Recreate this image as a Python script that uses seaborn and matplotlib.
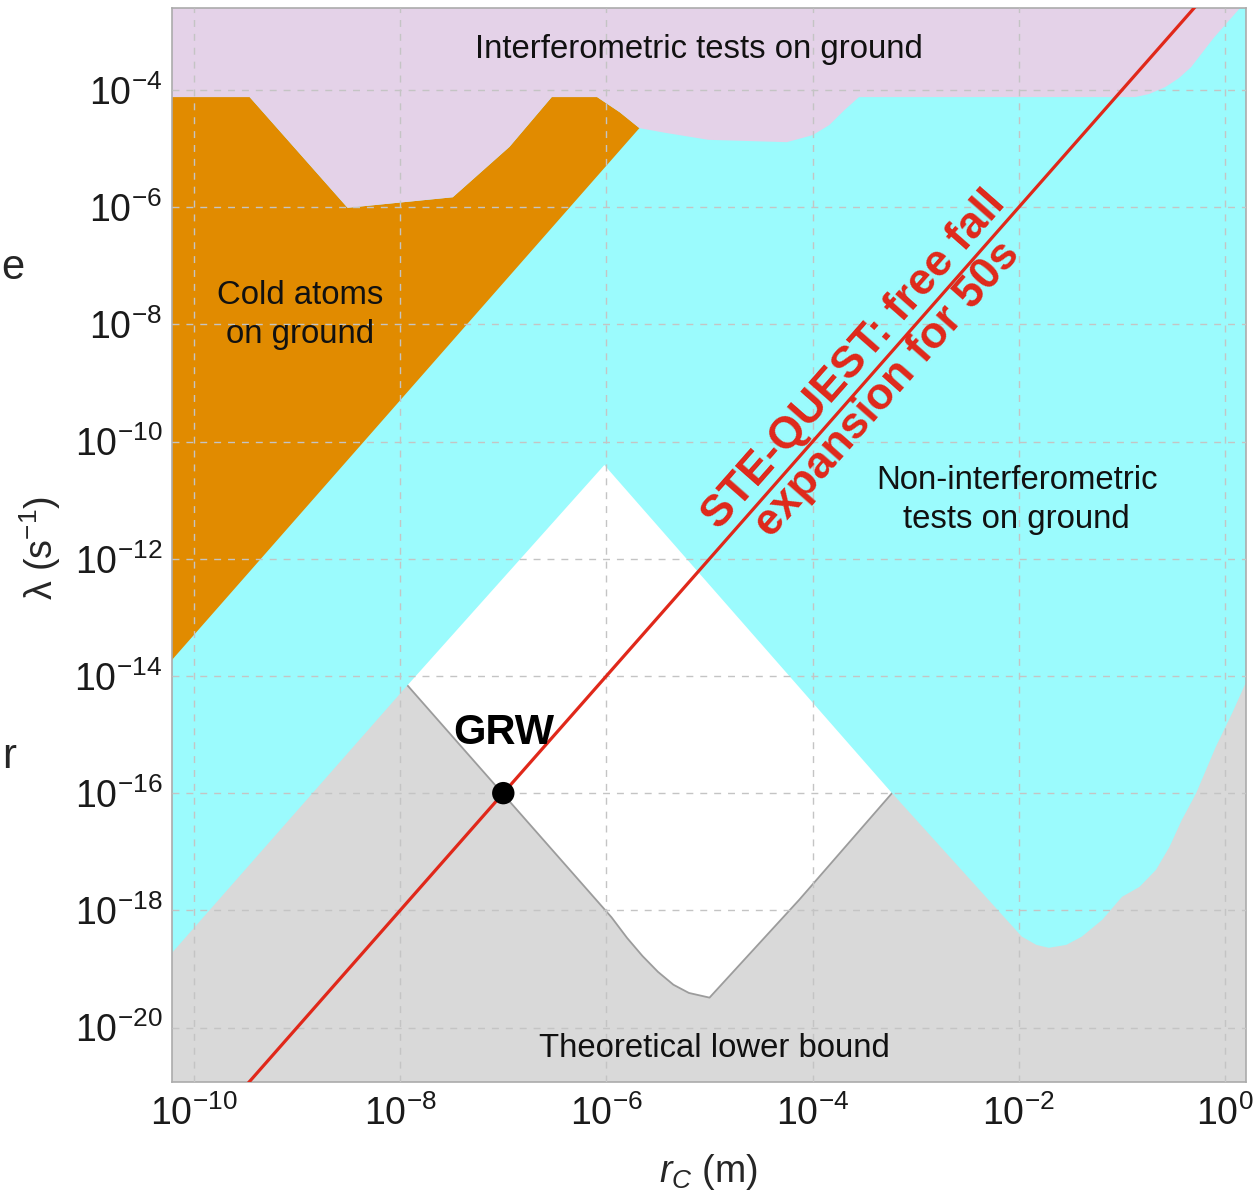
import numpy as np
import matplotlib
matplotlib.use("Agg")
import matplotlib.pyplot as plt
import seaborn as sns

# ---- data (log10 exponents) ----
# lower edge of the interferometric exclusion region (purple)
interf_rc = [-10.3, -9.46, -8.51, -7.49, -6.94, -6.53, -6.09, -5.87, -5.68, -5.43, -5.01,
             -4.25, -4.00, -3.84, -3.69, -3.55, -0.87, -0.74, -0.58, -0.45, -0.33, -0.11, 0.13, 0.3]
interf_lam = [-4.12, -4.12, -6.01, -5.83, -4.97, -4.12, -4.12, -4.38, -4.65, -4.73, -4.85,
              -4.89, -4.77, -4.60, -4.34, -4.12, -4.12, -4.07, -3.95, -3.80, -3.61, -3.11, -2.63, -2.4]

# cold atoms region (orange): top edge then the lower diagonal
cold_rc = [-10.3, -9.46, -8.51, -7.49, -6.94, -6.53, -6.09, -5.87, -5.68, -10.3]
cold_lam = [-4.12, -4.12, -6.01, -5.83, -4.97, -4.12, -4.12, -4.38, -4.65, -13.9]

# lower edge of the non-interferometric exclusion region (cyan)
nonint_rc = [-10.3, -7.93, -6.02, -3.23, -2.12, -1.97, -1.83, -1.71, -1.54, -1.39, -1.19,
             -1.00, -0.83, -0.67, -0.54, -0.42, -0.28, -0.09, 0.07, 0.20, 0.3]
nonint_lam = [-18.9, -14.16, -10.40, -16.00, -18.16, -18.45, -18.59, -18.64, -18.59, -18.45, -18.16,
              -17.77, -17.60, -17.31, -16.92, -16.46, -16.00, -15.21, -14.63, -14.12, -13.9]

# theoretical lower bound (grey)
theory_rc = [-10.3, -7.93, -5.95, -5.80, -5.65, -5.50, -5.35, -5.20, -5.00, -4.13, -3.23, 0.3]
theory_lam = [-9.4, -14.16, -18.12, -18.47, -18.78, -19.05, -19.27, -19.41, -19.49, -17.82, -16.00, -8.94]

# STE-QUEST projected bound and GRW point
ste_rc = [1e-10, 1e0]
ste_lam = [1e-22, 1e-2]
grw_rc = [1e-7]
grw_lam = [1e-16]

x_tick_exp = [-10, -8, -6, -4, -2, 0]
y_tick_exp = [-20, -18, -16, -14, -12, -10, -8, -6, -4]

# ---- style ----
sns.set_theme(style="white")
plt.rcParams["font.family"] = ["Liberation Sans", "DejaVu Sans"]
plt.rcParams["mathtext.fontset"] = "custom"
plt.rcParams["mathtext.rm"] = "Liberation Sans"
plt.rcParams["mathtext.it"] = "Liberation Sans:italic"
plt.rcParams["mathtext.bf"] = "Liberation Sans:bold"

purple = "#E4D2E8"
orange = "#E18B00"
cyan = "#9BFBFD"
grey = "#D9D9D9"
red = "#E0281A"

fig = plt.figure(figsize=(12.56, 11.95), dpi=100)
ax = fig.add_axes([172 / 1256, 1 - 1082 / 1195, (1246 - 172) / 1256, (1082 - 8) / 1195])
ax.set_xscale("log")
ax.set_yscale("log")
ax.set_xlim(10 ** -10.213, 10 ** 0.203)
ax.set_ylim(10 ** -20.93, 10 ** -2.60)

p = lambda a: 10.0 ** np.asarray(a, dtype=float)
top = -1.5
bottom = -22.0

# grey theoretical bound
ax.fill(p(theory_rc + [theory_rc[-1], theory_rc[0]]),
        p(theory_lam + [bottom, bottom]), color=grey, lw=0, zorder=1)
ax.plot(p(theory_rc), p(theory_lam), color="#9C9C9C", lw=1.3, zorder=1.2)

# cyan non-interferometric
ax.fill(p(nonint_rc + [nonint_rc[-1], nonint_rc[0]]),
        p(nonint_lam + [top, top]), color=cyan, lw=0, zorder=1.4)

# orange cold atoms
ax.fill(p(cold_rc), p(cold_lam), color=orange, lw=0, zorder=1.6)

# purple interferometric
ax.fill(p(interf_rc + [interf_rc[-1], interf_rc[0]]),
        p(interf_lam + [top, top]), color=purple, lw=0, zorder=1.8)

# grid above fills
ax.set_axisbelow(False)
ax.set_xticks(p(x_tick_exp))
ax.set_yticks(p(y_tick_exp))
ax.minorticks_off()
ax.grid(True, which="major", color="#C4C4C4", linestyle=(0, (5, 5)), linewidth=1.0)

# STE-QUEST line and GRW point
sns.lineplot(x=ste_rc, y=ste_lam, ax=ax, color=red, linewidth=2.3, zorder=4)
sns.scatterplot(x=grw_rc, y=grw_lam, ax=ax, color="black", s=260, edgecolor="none", zorder=5)

# text labels
txt = dict(fontsize=23.7, color="#111111", ha="center", va="center", zorder=6)
ax.text(10 ** -5.10, 10 ** -3.30, "Interferometric tests on ground", **txt)
ax.text(10 ** -8.97, 10 ** -7.84, "Cold atoms\non ground", linespacing=1.35, **txt)
ax.text(10 ** -2.02, 10 ** -11.0, "Non-interferometric\ntests on ground", linespacing=1.35, **txt)
ax.text(10 ** -4.95, 10 ** -20.36, "Theoretical lower bound", **txt)
ax.text(10 ** -7.0, 10 ** -14.97, "GRW", fontsize=30, fontweight="bold", color="black",
        ha="center", va="center", zorder=6)

# rotation of the STE-QUEST label follows the line on screen
fig.canvas.draw()
a1 = ax.transData.transform((ste_rc[0], ste_lam[0]))
a2 = ax.transData.transform((ste_rc[1], ste_lam[1]))
angle = np.degrees(np.arctan2(a2[1] - a1[1], a2[0] - a1[0]))
ax.text(10 ** -3.43, 10 ** -8.86, "STE-QUEST: free fall\nexpansion for 50s",
        fontsize=32, fontweight="bold", color=red, rotation=angle,
        rotation_mode="anchor", ha="center", va="center", multialignment="center",
        linespacing=1.1, zorder=6)

ax.tick_params(axis="both", which="both", length=0, labelsize=27, colors="#1A1A1A")
ax.tick_params(axis="y", pad=7)
ax.tick_params(axis="x", pad=10)
for s in ax.spines.values():
    s.set_color("#ABABAB")
    s.set_linewidth(1.2)

fig.text(708 / 1256, 1 - 1172 / 1195, "$r_C$ (m)", fontsize=27, ha="center", va="center")
fig.text(40 / 1256, 1 - 548 / 1195, "λ (s$^{-1}$)", fontsize=27, rotation=90,
         ha="center", va="center")

# stray characters from the slide at the left edge
fig.text(1 / 1256, 1 - 268 / 1195, "e", fontsize=30, ha="left", va="center")
fig.text(2 / 1256, 1 - 757 / 1195, "r", fontsize=30, ha="left", va="center")

fig.savefig("out.png", dpi=100)
